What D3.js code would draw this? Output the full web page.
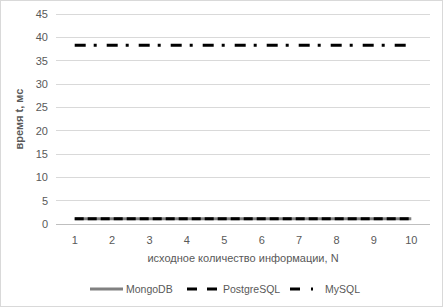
<!DOCTYPE html>
<html><head><meta charset="utf-8">
<script src="https://cdn.jsdelivr.net/npm/d3@7"></script>
<style>body{margin:0;background:#fff}svg{display:block}</style>
</head><body>
<svg id="c" width="443" height="307"></svg>
<script>
const categories = [1,2,3,4,5,6,7,8,9,10];
const mongo = [1.1,1.1,1.1,1.1,1.1,1.1,1.1,1.1,1.1,1.1];
const postgres = [1.1,1.1,1.1,1.1,1.1,1.1,1.1,1.1,1.1,1.1];
const mysql = [38.3,38.3,38.3,38.3,38.3,38.3,38.3,38.3,38.3,38.3];
const yTicks = [0,5,10,15,20,25,30,35,40,45];
const seriesNames = ["MongoDB","PostgreSQL","MySQL"];

const svg = d3.select("#c");
const font = "'Liberation Sans', Arial, sans-serif";
const txt = "#595959";
svg.append("rect").attr("x",0.5).attr("y",0.5).attr("width",442).attr("height",306)
  .attr("fill","#fff").attr("stroke","#d9d9d9");

const x = d3.scaleBand().domain(categories).range([56,430]);
const y = d3.scaleLinear().domain([0,45]).range([224,14]);

const g = svg.append("g");
g.selectAll("line.grid").data(yTicks).join("line")
  .attr("x1",56).attr("x2",430).attr("y1",d=>y(d)).attr("y2",d=>y(d))
  .attr("stroke",d=>d===0?"#bfbfbf":"#d9d9d9").attr("stroke-width",1)
  .attr("shape-rendering","crispEdges");
g.selectAll("text.yt").data(yTicks).join("text")
  .attr("x",48).attr("y",d=>y(d)+4).attr("text-anchor","end")
  .attr("font-family",font).attr("font-size",11).attr("fill",txt).text(d=>d);
g.selectAll("text.xt").data(categories).join("text")
  .attr("x",d=>x(d)+x.bandwidth()/2).attr("y",244).attr("text-anchor","middle")
  .attr("font-family",font).attr("font-size",11).attr("fill",txt).text(d=>d);

svg.append("text").attr("x",243).attr("y",262).attr("text-anchor","middle")
  .attr("font-family",font).attr("font-size",11).attr("fill",txt)
  .text("исходное количество информации, N");
svg.append("text").attr("transform","translate(23,119) rotate(-90)").attr("text-anchor","middle")
  .attr("font-family",font).attr("font-size",11).attr("font-weight","bold").attr("fill",txt)
  .text("время t, мс");

const line = d3.line().x((d,i)=>x(categories[i])+x.bandwidth()/2).y(d=>y(d));
const styles = [
  {data:mongo, color:"#808080", dash:null},
  {data:postgres, color:"#000", dash:"9,4"},
  {data:mysql, color:"#000", dash:"11,8,3,10"}
];
styles.forEach(s=>{
  svg.append("path").attr("d",line(s.data)).attr("fill","none")
    .attr("stroke",s.color).attr("stroke-width",3).attr("stroke-dasharray",s.dash);
});

const legX = [90,187,290];
const legTextX = [126,223,325];
const legLen = [33,30,23];
const legDash = [null,"10,10","10,11,2,20"];
seriesNames.forEach((n,i)=>{
  svg.append("line").attr("x1",legX[i]).attr("x2",legX[i]+legLen[i]).attr("y1",289).attr("y2",289)
    .attr("stroke",styles[i].color).attr("stroke-width",3).attr("stroke-dasharray",legDash[i]);
  svg.append("text").attr("x",legTextX[i]).attr("y",293).attr("font-family",font)
    .attr("font-size",10.5).attr("fill",txt).text(n);
});
</script>
</body></html>
